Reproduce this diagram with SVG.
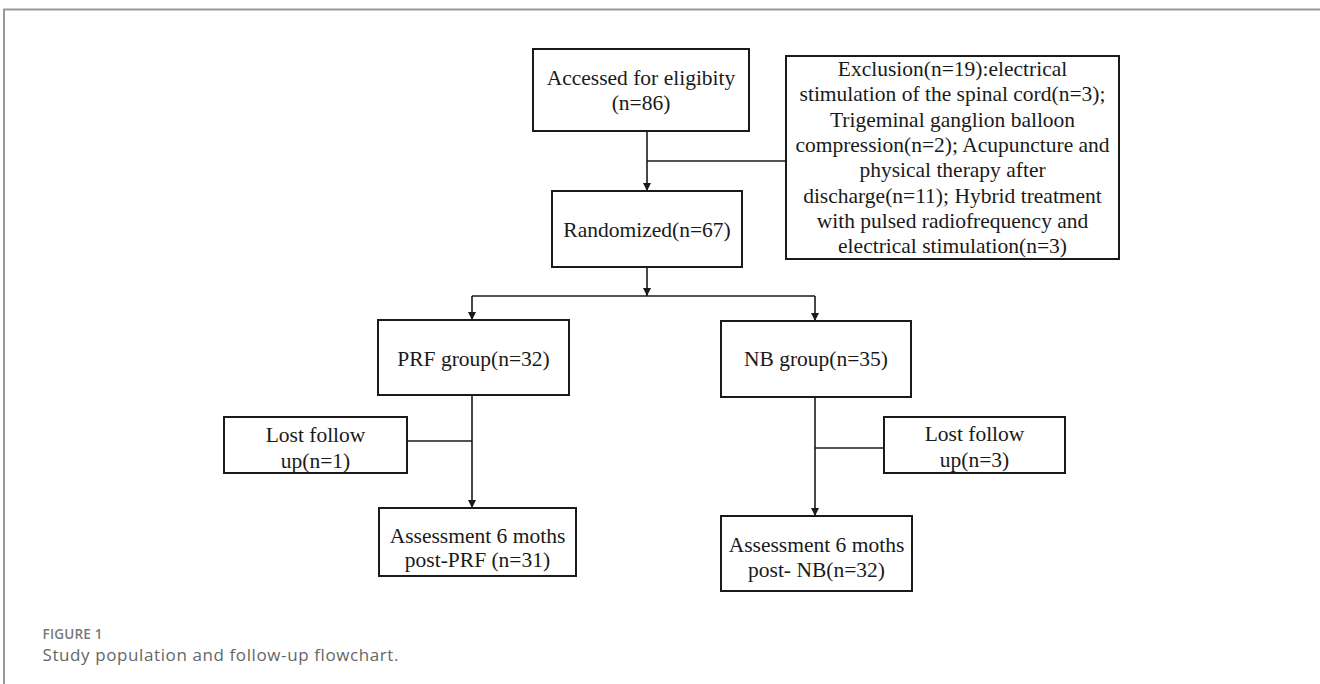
<svg xmlns="http://www.w3.org/2000/svg" width="1320" height="684" viewBox="0 0 1320 684">
<style>
.box{fill:#fff;stroke:#1a1a1a;stroke-width:2}
.t{font-family:"Liberation Serif","Times New Roman",serif;font-size:21.5px;fill:#1a1a1a;text-anchor:middle}
.c{fill:none;stroke:#1a1a1a;stroke-width:1.6}
.cap1{font-family:"Open Sans","Noto Sans",sans-serif;font-size:13.5px;font-weight:600;fill:#777;letter-spacing:0.2px}
.cap2{font-family:"Open Sans","Noto Sans",sans-serif;font-size:17px;fill:#666;letter-spacing:0.6px}
</style>
<defs>
<marker id="ah" markerWidth="10" markerHeight="10" refX="9" refY="5" orient="auto" markerUnits="userSpaceOnUse">
<path d="M1,1 L9,5 L1,9 Z" fill="#1a1a1a"/>
</marker>
</defs>
<rect x="0" y="0" width="1320" height="684" fill="#fff"/>
<path d="M4,684 L4,9.5 L1320,9.5" fill="none" stroke="#999" stroke-width="2"/>

<g id="connectors">
<path class="c" d="M647,131 L647,191" marker-end="url(#ah)"/>
<path class="c" d="M647,161 L786,161"/>
<path class="c" d="M647,267 L647,296" marker-end="url(#ah)"/>
<path class="c" d="M472,296 L815,296"/>
<path class="c" d="M472,296 L472,320" marker-end="url(#ah)"/>
<path class="c" d="M815,296 L815,321" marker-end="url(#ah)"/>
<path class="c" d="M472,395 L472,508" marker-end="url(#ah)"/>
<path class="c" d="M407,441 L472,441"/>
<path class="c" d="M815,397 L815,516" marker-end="url(#ah)"/>
<path class="c" d="M815,448 L884,448"/>
</g>

<g id="eligibility">
<rect class="box" x="533" y="49" width="216" height="82"/>
<text class="t" x="641" y="85">Accessed for eligibity</text>
<text class="t" x="641" y="110">(n=86)</text>
</g>

<g id="exclusion">
<rect class="box" x="786" y="56" width="333" height="203"/>
<text class="t" x="952.5" y="76">Exclusion(n=19):electrical</text>
<text class="t" x="952.5" y="101.3">stimulation of the spinal cord(n=3);</text>
<text class="t" x="952.5" y="126.6">Trigeminal ganglion balloon</text>
<text class="t" x="952.5" y="151.9">compression(n=2); Acupuncture and</text>
<text class="t" x="952.5" y="177.2">physical therapy after</text>
<text class="t" x="952.5" y="202.5">discharge(n=11); Hybrid treatment</text>
<text class="t" x="952.5" y="227.8">with pulsed radiofrequency and</text>
<text class="t" x="952.5" y="253.1">electrical stimulation(n=3)</text>
</g>

<g id="randomized">
<rect class="box" x="552" y="191" width="190" height="76"/>
<text class="t" x="647" y="237">Randomized(n=67)</text>
</g>

<g id="prf">
<rect class="box" x="378" y="320" width="191" height="75"/>
<text class="t" x="473.5" y="366">PRF group(n=32)</text>
</g>

<g id="nb">
<rect class="box" x="721" y="321" width="190" height="76"/>
<text class="t" x="816" y="366">NB group(n=35)</text>
</g>

<g id="lost-prf">
<rect class="box" x="224" y="417" width="183" height="56"/>
<text class="t" x="315.5" y="442">Lost follow</text>
<text class="t" x="315.5" y="468">up(n=1)</text>
</g>

<g id="lost-nb">
<rect class="box" x="884" y="417" width="181" height="56"/>
<text class="t" x="974.5" y="441">Lost follow</text>
<text class="t" x="974.5" y="467">up(n=3)</text>
</g>

<g id="assess-prf">
<rect class="box" x="379" y="508" width="197" height="68"/>
<text class="t" x="477.5" y="543">Assessment 6 moths</text>
<text class="t" x="477.5" y="567">post-PRF (n=31)</text>
</g>

<g id="assess-nb">
<rect class="box" x="721" y="516" width="191" height="75"/>
<text class="t" x="816.5" y="552">Assessment 6 moths</text>
<text class="t" x="816.5" y="577">post- NB(n=32)</text>
</g>

<text class="cap1" x="42.5" y="639">FIGURE 1</text>
<text class="cap2" x="42.5" y="661">Study population and follow-up flowchart.</text>
</svg>
